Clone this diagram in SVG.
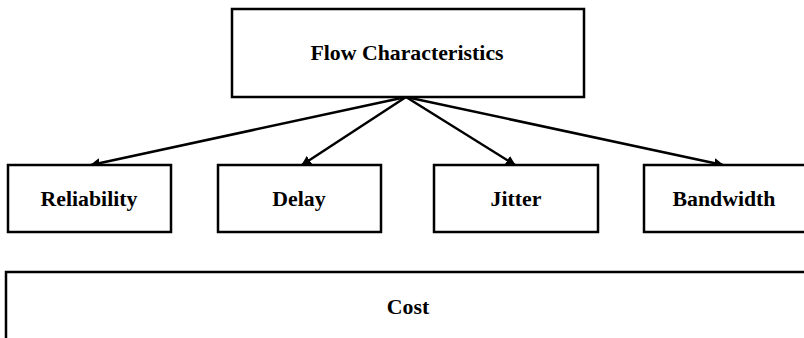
<svg xmlns="http://www.w3.org/2000/svg" width="804" height="338" viewBox="0 0 804 338">
<defs>
<style>
.box{fill:#fff;stroke:#000;stroke-width:2.5}
.lbl{font-family:"Liberation Serif","Times New Roman",serif;font-weight:bold;font-size:21.8px;fill:#000;text-anchor:middle;dominant-baseline:central}
.edge{stroke:#000;stroke-width:2.5;fill:none;marker-end:url(#ah)}
</style>
<marker id="ah" viewBox="0 0 10 10" refX="9" refY="5" markerWidth="4" markerHeight="4" orient="auto" markerUnits="strokeWidth">
<path d="M0,0 L10,5 L0,10 z" fill="#000"/>
</marker>
</defs>
<rect width="804" height="338" fill="#fff"/>
<g id="connectors">
<line class="edge" x1="406" y1="97" x2="91" y2="165"/>
<line class="edge" x1="406" y1="97" x2="302" y2="165"/>
<line class="edge" x1="406" y1="97" x2="515" y2="165"/>
<line class="edge" x1="406" y1="97" x2="723" y2="165"/>
</g>
<g id="flow">
<rect class="box" x="232" y="9" width="352" height="88"/>
<text class="lbl" x="407" y="53">Flow Characteristics</text>
</g>
<g id="reliability">
<rect class="box" x="8" y="165" width="163" height="67"/>
<text class="lbl" x="89" y="199">Reliability</text>
</g>
<g id="delay">
<rect class="box" x="218" y="165" width="163" height="67"/>
<text class="lbl" x="299" y="199">Delay</text>
</g>
<g id="jitter">
<rect class="box" x="434" y="165" width="164" height="67"/>
<text class="lbl" x="516" y="199">Jitter</text>
</g>
<g id="bandwidth">
<rect class="box" x="644" y="165" width="164" height="67"/>
<text class="lbl" x="724" y="199">Bandwidth</text>
</g>
<g id="cost">
<rect class="box" x="6" y="272" width="810" height="80"/>
<text class="lbl" x="408" y="307">Cost</text>
</g>
</svg>
